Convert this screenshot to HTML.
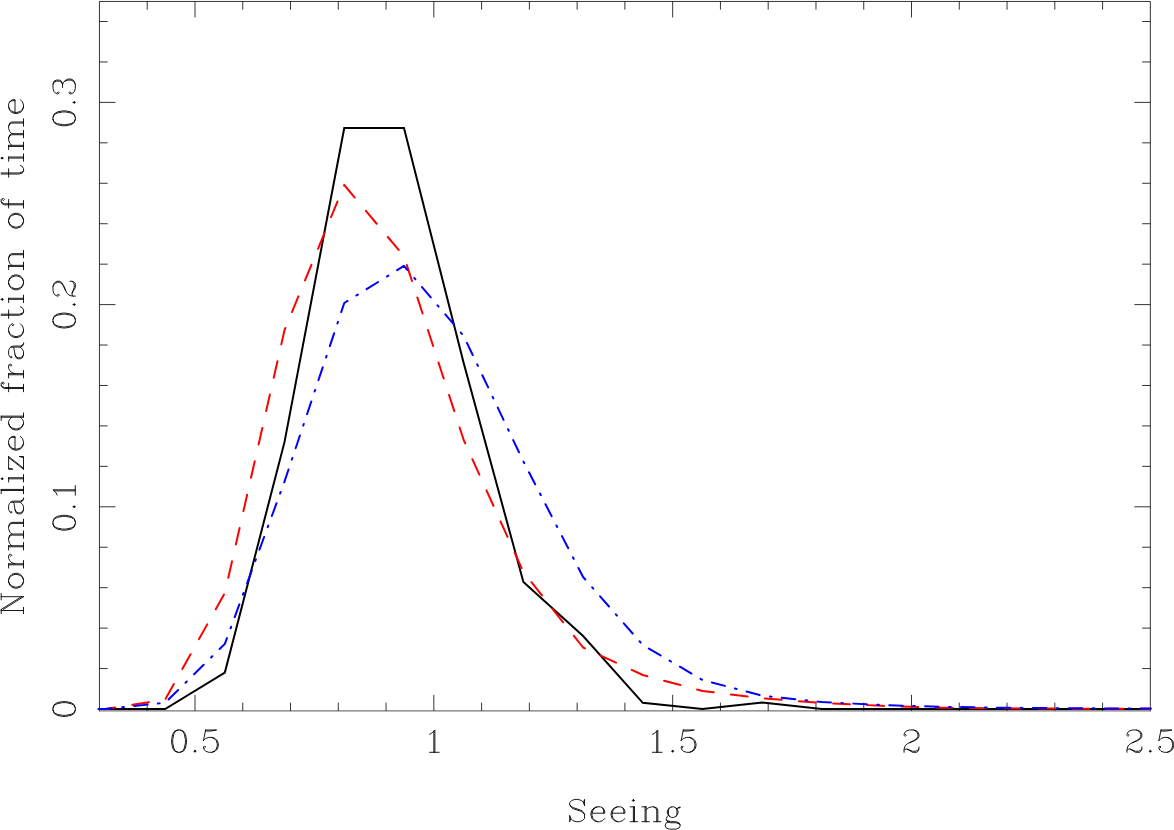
<!DOCTYPE html>
<html><head><meta charset="utf-8"><title>Seeing</title>
<style>html,body{margin:0;padding:0;width:1174px;height:830px;overflow:hidden;background:#fff;font-family:"Liberation Sans",sans-serif;}svg{display:block}</style>
</head><body>
<svg width="1174" height="830" viewBox="0 0 1174 830">
<title>Normalized fraction of time vs Seeing</title>
<rect width="1174" height="830" fill="#fff"/>
<g fill="none" stroke="#000" stroke-width="0.8" stroke-linecap="butt">
<path d="M99.45 711.25 V1.46 H1150.35 V711.25"/>
<path d="M99.05 710.9 H1150.75" stroke="#555" stroke-width="1"/>
<path d="M147.22 710.85 v-8.2 M147.22 1.46 v8.2 M194.99 710.85 v-16.0 M194.99 1.46 v16.0 M242.75 710.85 v-8.2 M242.75 1.46 v8.2 M290.52 710.85 v-8.2 M290.52 1.46 v8.2 M338.29 710.85 v-8.2 M338.29 1.46 v8.2 M386.06 710.85 v-8.2 M386.06 1.46 v8.2 M433.83 710.85 v-16.0 M433.83 1.46 v16.0 M481.60 710.85 v-8.2 M481.60 1.46 v8.2 M529.36 710.85 v-8.2 M529.36 1.46 v8.2 M577.13 710.85 v-8.2 M577.13 1.46 v8.2 M624.90 710.85 v-8.2 M624.90 1.46 v8.2 M672.67 710.85 v-16.0 M672.67 1.46 v16.0 M720.44 710.85 v-8.2 M720.44 1.46 v8.2 M768.20 710.85 v-8.2 M768.20 1.46 v8.2 M815.97 710.85 v-8.2 M815.97 1.46 v8.2 M863.74 710.85 v-8.2 M863.74 1.46 v8.2 M911.51 710.85 v-16.0 M911.51 1.46 v16.0 M959.28 710.85 v-8.2 M959.28 1.46 v8.2 M1007.05 710.85 v-8.2 M1007.05 1.46 v8.2 M1054.81 710.85 v-8.2 M1054.81 1.46 v8.2 M1102.58 710.85 v-8.2 M1102.58 1.46 v8.2 M99.45 668.56 h8.2 M1150.35 668.56 h-8.2 M99.45 628.12 h8.2 M1150.35 628.12 h-8.2 M99.45 587.68 h8.2 M1150.35 587.68 h-8.2 M99.45 547.24 h8.2 M1150.35 547.24 h-8.2 M99.45 506.80 h16.0 M1150.35 506.80 h-16.0 M99.45 466.36 h8.2 M1150.35 466.36 h-8.2 M99.45 425.92 h8.2 M1150.35 425.92 h-8.2 M99.45 385.48 h8.2 M1150.35 385.48 h-8.2 M99.45 345.04 h8.2 M1150.35 345.04 h-8.2 M99.45 304.60 h16.0 M1150.35 304.60 h-16.0 M99.45 264.16 h8.2 M1150.35 264.16 h-8.2 M99.45 223.72 h8.2 M1150.35 223.72 h-8.2 M99.45 183.28 h8.2 M1150.35 183.28 h-8.2 M99.45 142.84 h8.2 M1150.35 142.84 h-8.2 M99.45 102.40 h16.0 M1150.35 102.40 h-16.0 M99.45 61.96 h8.2 M1150.35 61.96 h-8.2 M99.45 21.52 h8.2 M1150.35 21.52 h-8.2"/>
</g>
<g fill="none" stroke-width="2.0" stroke-linejoin="round">
<path d="M98.60 709.00 L105.42 709.00 L165.13 709.00 L224.84 672.50 L284.55 441.90 L344.26 128.00 L403.97 128.00 L463.68 363.00 L523.39 582.00 L583.10 636.00 L642.81 702.80 L702.52 709.00 L762.23 702.60 L821.94 709.00 L881.65 709.00 L941.36 709.00 L1001.07 709.00 L1060.78 709.00 L1120.49 709.00 L1150.80 709.00" stroke="#000" stroke-linejoin="miter"/>
<path d="M98.60 709.00 L105.42 709.00 L165.13 699.60 L224.84 593.00 L284.55 330.00 L344.26 185.00 L403.97 256.30 L463.68 440.00 L523.39 572.00 L583.10 647.50 L642.81 675.00 L702.52 691.00 L762.23 698.20 L821.94 703.00 L881.65 705.80 L941.36 707.70 L1001.07 708.30 L1060.78 708.60 L1120.49 708.80 L1150.80 708.80" stroke="#ff0000" stroke-dasharray="16.9 17.3" stroke-dashoffset="0.2" stroke-linecap="round"/>
<path d="M98.60 709.00 L105.42 709.00 L165.13 702.80 L224.84 643.90 L284.55 481.40 L344.26 303.00 L403.97 265.90 L463.68 336.00 L523.39 461.50 L583.10 577.00 L642.81 645.00 L702.52 680.00 L762.23 695.70 L821.94 702.10 L881.65 705.00 L941.36 706.80 L1001.07 707.70 L1060.78 708.20 L1120.49 708.50 L1150.80 708.50" stroke="#0000ff" stroke-dasharray="13.5 10.4 1.7 10.3" stroke-dashoffset="0.2" stroke-linecap="round"/>
</g>
<g fill="none" stroke="#000" stroke-width="0.9" stroke-linecap="round" stroke-linejoin="round">
<path aria-label="0.5" transform="translate(168.44 752.3)" d="M9.56 -22.30 L6.37 -21.24 L4.25 -18.05 L3.19 -12.74 L3.19 -9.56 L4.25 -4.25 L6.37 -1.06 L9.56 0.00 L11.68 0.00 L14.87 -1.06 L16.99 -4.25 L18.05 -9.56 L18.05 -12.74 L16.99 -18.05 L14.87 -21.24 L11.68 -22.30 L9.56 -22.30 M9.56 -22.30 L7.43 -21.24 L6.37 -20.18 L5.31 -18.05 L4.25 -12.74 L4.25 -9.56 L5.31 -4.25 L6.37 -2.12 L7.43 -1.06 L9.56 0.00 M11.68 0.00 L13.81 -1.06 L14.87 -2.12 L15.93 -4.25 L16.99 -9.56 L16.99 -12.74 L15.93 -18.05 L14.87 -20.18 L13.81 -21.24 L11.68 -22.30 M26.55 -2.12 L25.49 -1.06 L26.55 0.00 L27.61 -1.06 L26.55 -2.12 M37.17 -22.30 L35.05 -11.68 M35.05 -11.68 L37.17 -13.81 L40.36 -14.87 L43.54 -14.87 L46.73 -13.81 L48.85 -11.68 L49.91 -8.50 L49.91 -6.37 L48.85 -3.19 L46.73 -1.06 L43.54 0.00 L40.36 0.00 L37.17 -1.06 L36.11 -2.12 L35.05 -4.25 L35.05 -5.31 L36.11 -6.37 L37.17 -5.31 L36.11 -4.25 M43.54 -14.87 L45.67 -13.81 L47.79 -11.68 L48.85 -8.50 L48.85 -6.37 L47.79 -3.19 L45.67 -1.06 L43.54 0.00 M37.17 -22.30 L47.79 -22.30 M37.17 -21.24 L42.48 -21.24 L47.79 -22.30"/>
<path transform="translate(168.44 752.3)" d="M26.55 -2.12 L25.49 -1.06 L26.55 0.00 L27.61 -1.06 L26.55 -2.12Z" fill="#000" stroke="none"/>
<path aria-label="1" transform="translate(423.21 752.3)" d="M6.37 -18.05 L8.50 -19.12 L11.68 -22.30 L11.68 0.00 M10.62 -21.24 L10.62 0.00 M6.37 0.00 L15.93 0.00"/>
<path aria-label="1.5" transform="translate(646.12 752.3)" d="M6.37 -18.05 L8.50 -19.12 L11.68 -22.30 L11.68 0.00 M10.62 -21.24 L10.62 0.00 M6.37 0.00 L15.93 0.00 M26.55 -2.12 L25.49 -1.06 L26.55 0.00 L27.61 -1.06 L26.55 -2.12 M37.17 -22.30 L35.05 -11.68 M35.05 -11.68 L37.17 -13.81 L40.36 -14.87 L43.54 -14.87 L46.73 -13.81 L48.85 -11.68 L49.91 -8.50 L49.91 -6.37 L48.85 -3.19 L46.73 -1.06 L43.54 0.00 L40.36 0.00 L37.17 -1.06 L36.11 -2.12 L35.05 -4.25 L35.05 -5.31 L36.11 -6.37 L37.17 -5.31 L36.11 -4.25 M43.54 -14.87 L45.67 -13.81 L47.79 -11.68 L48.85 -8.50 L48.85 -6.37 L47.79 -3.19 L45.67 -1.06 L43.54 0.00 M37.17 -22.30 L47.79 -22.30 M37.17 -21.24 L42.48 -21.24 L47.79 -22.30"/>
<path transform="translate(646.12 752.3)" d="M26.55 -2.12 L25.49 -1.06 L26.55 0.00 L27.61 -1.06 L26.55 -2.12Z" fill="#000" stroke="none"/>
<path aria-label="2" transform="translate(900.89 752.3)" d="M4.25 -18.05 L5.31 -16.99 L4.25 -15.93 L3.19 -16.99 L3.19 -18.05 L4.25 -20.18 L5.31 -21.24 L8.50 -22.30 L12.74 -22.30 L15.93 -21.24 L16.99 -20.18 L18.05 -18.05 L18.05 -15.93 L16.99 -13.81 L13.81 -11.68 L8.50 -9.56 L6.37 -8.50 L4.25 -6.37 L3.19 -3.19 L3.19 0.00 M12.74 -22.30 L14.87 -21.24 L15.93 -20.18 L16.99 -18.05 L16.99 -15.93 L15.93 -13.81 L12.74 -11.68 L8.50 -9.56 M3.19 -2.12 L4.25 -3.19 L6.37 -3.19 L11.68 -1.06 L14.87 -1.06 L16.99 -2.12 L18.05 -3.19 M6.37 -3.19 L11.68 0.00 L15.93 0.00 L16.99 -1.06 L18.05 -3.19 L18.05 -5.31"/>
<path aria-label="2.5" transform="translate(1123.80 752.3)" d="M4.25 -18.05 L5.31 -16.99 L4.25 -15.93 L3.19 -16.99 L3.19 -18.05 L4.25 -20.18 L5.31 -21.24 L8.50 -22.30 L12.74 -22.30 L15.93 -21.24 L16.99 -20.18 L18.05 -18.05 L18.05 -15.93 L16.99 -13.81 L13.81 -11.68 L8.50 -9.56 L6.37 -8.50 L4.25 -6.37 L3.19 -3.19 L3.19 0.00 M12.74 -22.30 L14.87 -21.24 L15.93 -20.18 L16.99 -18.05 L16.99 -15.93 L15.93 -13.81 L12.74 -11.68 L8.50 -9.56 M3.19 -2.12 L4.25 -3.19 L6.37 -3.19 L11.68 -1.06 L14.87 -1.06 L16.99 -2.12 L18.05 -3.19 M6.37 -3.19 L11.68 0.00 L15.93 0.00 L16.99 -1.06 L18.05 -3.19 L18.05 -5.31 M26.55 -2.12 L25.49 -1.06 L26.55 0.00 L27.61 -1.06 L26.55 -2.12 M37.17 -22.30 L35.05 -11.68 M35.05 -11.68 L37.17 -13.81 L40.36 -14.87 L43.54 -14.87 L46.73 -13.81 L48.85 -11.68 L49.91 -8.50 L49.91 -6.37 L48.85 -3.19 L46.73 -1.06 L43.54 0.00 L40.36 0.00 L37.17 -1.06 L36.11 -2.12 L35.05 -4.25 L35.05 -5.31 L36.11 -6.37 L37.17 -5.31 L36.11 -4.25 M43.54 -14.87 L45.67 -13.81 L47.79 -11.68 L48.85 -8.50 L48.85 -6.37 L47.79 -3.19 L45.67 -1.06 L43.54 0.00 M37.17 -22.30 L47.79 -22.30 M37.17 -21.24 L42.48 -21.24 L47.79 -22.30"/>
<path transform="translate(1123.80 752.3)" d="M26.55 -2.12 L25.49 -1.06 L26.55 0.00 L27.61 -1.06 L26.55 -2.12Z" fill="#000" stroke="none"/>
<path aria-label="Seeing" transform="translate(566.49 821.7)" d="M16.99 -19.12 L18.05 -22.30 L18.05 -15.93 L16.99 -19.12 L14.87 -21.24 L11.68 -22.30 L8.50 -22.30 L5.31 -21.24 L3.19 -19.12 L3.19 -16.99 L4.25 -14.87 L5.31 -13.81 L7.43 -12.74 L13.81 -10.62 L15.93 -9.56 L18.05 -7.43 M3.19 -16.99 L5.31 -14.87 L7.43 -13.81 L13.81 -11.68 L15.93 -10.62 L16.99 -9.56 L18.05 -7.43 L18.05 -3.19 L15.93 -1.06 L12.74 0.00 L9.56 0.00 L6.37 -1.06 L4.25 -3.19 L3.19 -6.37 L3.19 0.00 L4.25 -3.19 M25.49 -8.50 L38.23 -8.50 L38.23 -10.62 L37.17 -12.74 L36.11 -13.81 L33.98 -14.87 L30.80 -14.87 L27.61 -13.81 L25.49 -11.68 L24.43 -8.50 L24.43 -6.37 L25.49 -3.19 L27.61 -1.06 L30.80 0.00 L32.92 0.00 L36.11 -1.06 L38.23 -3.19 M37.17 -8.50 L37.17 -11.68 L36.11 -13.81 M30.80 -14.87 L28.67 -13.81 L26.55 -11.68 L25.49 -8.50 L25.49 -6.37 L26.55 -3.19 L28.67 -1.06 L30.80 0.00 M45.67 -8.50 L58.41 -8.50 L58.41 -10.62 L57.35 -12.74 L56.29 -13.81 L54.16 -14.87 L50.98 -14.87 L47.79 -13.81 L45.67 -11.68 L44.60 -8.50 L44.60 -6.37 L45.67 -3.19 L47.79 -1.06 L50.98 0.00 L53.10 0.00 L56.29 -1.06 L58.41 -3.19 M57.35 -8.50 L57.35 -11.68 L56.29 -13.81 M50.98 -14.87 L48.85 -13.81 L46.73 -11.68 L45.67 -8.50 L45.67 -6.37 L46.73 -3.19 L48.85 -1.06 L50.98 0.00 M66.91 -22.30 L65.84 -21.24 L66.91 -20.18 L67.97 -21.24 L66.91 -22.30 M66.91 -14.87 L66.91 0.00 M67.97 -14.87 L67.97 0.00 M63.72 -14.87 L67.97 -14.87 M63.72 0.00 L71.15 0.00 M78.59 -14.87 L78.59 0.00 M79.65 -14.87 L79.65 0.00 M79.65 -11.68 L81.77 -13.81 L84.96 -14.87 L87.08 -14.87 L90.27 -13.81 L91.33 -11.68 L91.33 0.00 M87.08 -14.87 L89.21 -13.81 L90.27 -11.68 L90.27 0.00 M75.40 -14.87 L79.65 -14.87 M75.40 0.00 L82.84 0.00 M87.08 0.00 L94.52 0.00 M105.14 -14.87 L103.01 -13.81 L101.95 -12.74 L100.89 -10.62 L100.89 -8.50 L101.95 -6.37 L103.01 -5.31 L105.14 -4.25 L107.26 -4.25 L109.39 -5.31 L110.45 -6.37 L111.51 -8.50 L111.51 -10.62 L110.45 -12.74 L109.39 -13.81 L107.26 -14.87 L105.14 -14.87 M103.01 -13.81 L101.95 -11.68 L101.95 -7.43 L103.01 -5.31 M109.39 -5.31 L110.45 -7.43 L110.45 -11.68 L109.39 -13.81 M110.45 -12.74 L111.51 -13.81 L113.63 -14.87 L113.63 -13.81 L111.51 -13.81 M101.95 -6.37 L100.89 -5.31 L99.83 -3.19 L99.83 -2.12 L100.89 0.00 L104.08 1.06 L109.39 1.06 L112.57 2.12 L113.63 3.19 M99.83 -2.12 L100.89 -1.06 L104.08 0.00 L109.39 0.00 L112.57 1.06 L113.63 3.19 L113.63 4.25 L112.57 6.37 L109.39 7.43 L103.01 7.43 L99.83 6.37 L98.77 4.25 L98.77 3.19 L99.83 1.06 L103.01 0.00"/>
<path transform="translate(566.49 821.7)" d="M66.91 -22.30 L65.84 -21.24 L66.91 -20.18 L67.97 -21.24 L66.91 -22.30Z" fill="#000" stroke="none"/>
<path aria-label="0" transform="translate(75.3 719.62) rotate(-90)" d="M9.56 -22.30 L6.37 -21.24 L4.25 -18.05 L3.19 -12.74 L3.19 -9.56 L4.25 -4.25 L6.37 -1.06 L9.56 0.00 L11.68 0.00 L14.87 -1.06 L16.99 -4.25 L18.05 -9.56 L18.05 -12.74 L16.99 -18.05 L14.87 -21.24 L11.68 -22.30 L9.56 -22.30 M9.56 -22.30 L7.43 -21.24 L6.37 -20.18 L5.31 -18.05 L4.25 -12.74 L4.25 -9.56 L5.31 -4.25 L6.37 -2.12 L7.43 -1.06 L9.56 0.00 M11.68 0.00 L13.81 -1.06 L14.87 -2.12 L15.93 -4.25 L16.99 -9.56 L16.99 -12.74 L15.93 -18.05 L14.87 -20.18 L13.81 -21.24 L11.68 -22.30"/>
<path aria-label="0.1" transform="translate(75.3 533.35) rotate(-90)" d="M9.56 -22.30 L6.37 -21.24 L4.25 -18.05 L3.19 -12.74 L3.19 -9.56 L4.25 -4.25 L6.37 -1.06 L9.56 0.00 L11.68 0.00 L14.87 -1.06 L16.99 -4.25 L18.05 -9.56 L18.05 -12.74 L16.99 -18.05 L14.87 -21.24 L11.68 -22.30 L9.56 -22.30 M9.56 -22.30 L7.43 -21.24 L6.37 -20.18 L5.31 -18.05 L4.25 -12.74 L4.25 -9.56 L5.31 -4.25 L6.37 -2.12 L7.43 -1.06 L9.56 0.00 M11.68 0.00 L13.81 -1.06 L14.87 -2.12 L15.93 -4.25 L16.99 -9.56 L16.99 -12.74 L15.93 -18.05 L14.87 -20.18 L13.81 -21.24 L11.68 -22.30 M26.55 -2.12 L25.49 -1.06 L26.55 0.00 L27.61 -1.06 L26.55 -2.12 M38.23 -18.05 L40.36 -19.12 L43.54 -22.30 L43.54 0.00 M42.48 -21.24 L42.48 0.00 M38.23 0.00 L47.79 0.00"/>
<path transform="translate(75.3 533.35) rotate(-90)" d="M26.55 -2.12 L25.49 -1.06 L26.55 0.00 L27.61 -1.06 L26.55 -2.12Z" fill="#000" stroke="none"/>
<path aria-label="0.2" transform="translate(75.3 331.15) rotate(-90)" d="M9.56 -22.30 L6.37 -21.24 L4.25 -18.05 L3.19 -12.74 L3.19 -9.56 L4.25 -4.25 L6.37 -1.06 L9.56 0.00 L11.68 0.00 L14.87 -1.06 L16.99 -4.25 L18.05 -9.56 L18.05 -12.74 L16.99 -18.05 L14.87 -21.24 L11.68 -22.30 L9.56 -22.30 M9.56 -22.30 L7.43 -21.24 L6.37 -20.18 L5.31 -18.05 L4.25 -12.74 L4.25 -9.56 L5.31 -4.25 L6.37 -2.12 L7.43 -1.06 L9.56 0.00 M11.68 0.00 L13.81 -1.06 L14.87 -2.12 L15.93 -4.25 L16.99 -9.56 L16.99 -12.74 L15.93 -18.05 L14.87 -20.18 L13.81 -21.24 L11.68 -22.30 M26.55 -2.12 L25.49 -1.06 L26.55 0.00 L27.61 -1.06 L26.55 -2.12 M36.11 -18.05 L37.17 -16.99 L36.11 -15.93 L35.05 -16.99 L35.05 -18.05 L36.11 -20.18 L37.17 -21.24 L40.36 -22.30 L44.60 -22.30 L47.79 -21.24 L48.85 -20.18 L49.91 -18.05 L49.91 -15.93 L48.85 -13.81 L45.67 -11.68 L40.36 -9.56 L38.23 -8.50 L36.11 -6.37 L35.05 -3.19 L35.05 0.00 M44.60 -22.30 L46.73 -21.24 L47.79 -20.18 L48.85 -18.05 L48.85 -15.93 L47.79 -13.81 L44.60 -11.68 L40.36 -9.56 M35.05 -2.12 L36.11 -3.19 L38.23 -3.19 L43.54 -1.06 L46.73 -1.06 L48.85 -2.12 L49.91 -3.19 M38.23 -3.19 L43.54 0.00 L47.79 0.00 L48.85 -1.06 L49.91 -3.19 L49.91 -5.31"/>
<path transform="translate(75.3 331.15) rotate(-90)" d="M26.55 -2.12 L25.49 -1.06 L26.55 0.00 L27.61 -1.06 L26.55 -2.12Z" fill="#000" stroke="none"/>
<path aria-label="0.3" transform="translate(75.3 128.95) rotate(-90)" d="M9.56 -22.30 L6.37 -21.24 L4.25 -18.05 L3.19 -12.74 L3.19 -9.56 L4.25 -4.25 L6.37 -1.06 L9.56 0.00 L11.68 0.00 L14.87 -1.06 L16.99 -4.25 L18.05 -9.56 L18.05 -12.74 L16.99 -18.05 L14.87 -21.24 L11.68 -22.30 L9.56 -22.30 M9.56 -22.30 L7.43 -21.24 L6.37 -20.18 L5.31 -18.05 L4.25 -12.74 L4.25 -9.56 L5.31 -4.25 L6.37 -2.12 L7.43 -1.06 L9.56 0.00 M11.68 0.00 L13.81 -1.06 L14.87 -2.12 L15.93 -4.25 L16.99 -9.56 L16.99 -12.74 L15.93 -18.05 L14.87 -20.18 L13.81 -21.24 L11.68 -22.30 M26.55 -2.12 L25.49 -1.06 L26.55 0.00 L27.61 -1.06 L26.55 -2.12 M36.11 -18.05 L37.17 -16.99 L36.11 -15.93 L35.05 -16.99 L35.05 -18.05 L36.11 -20.18 L37.17 -21.24 L40.36 -22.30 L44.60 -22.30 L47.79 -21.24 L48.85 -19.12 L48.85 -15.93 L47.79 -13.81 L44.60 -12.74 L41.42 -12.74 M44.60 -22.30 L46.73 -21.24 L47.79 -19.12 L47.79 -15.93 L46.73 -13.81 L44.60 -12.74 M44.60 -12.74 L46.73 -11.68 L48.85 -9.56 L49.91 -7.43 L49.91 -4.25 L48.85 -2.12 L47.79 -1.06 L44.60 0.00 L40.36 0.00 L37.17 -1.06 L36.11 -2.12 L35.05 -4.25 L35.05 -5.31 L36.11 -6.37 L37.17 -5.31 L36.11 -4.25 M47.79 -10.62 L48.85 -7.43 L48.85 -4.25 L47.79 -2.12 L46.73 -1.06 L44.60 0.00"/>
<path transform="translate(75.3 128.95) rotate(-90)" d="M26.55 -2.12 L25.49 -1.06 L26.55 0.00 L27.61 -1.06 L26.55 -2.12Z" fill="#000" stroke="none"/>
<path aria-label="Normalized fraction of time" transform="translate(23.5 615.81) rotate(-90)" d="M5.31 -22.30 L5.31 0.00 M6.37 -22.30 L19.12 -2.12 M6.37 -20.18 L19.12 0.00 M19.12 -22.30 L19.12 0.00 M2.12 -22.30 L6.37 -22.30 M15.93 -22.30 L22.30 -22.30 M2.12 0.00 L8.50 0.00 M33.98 -14.87 L30.80 -13.81 L28.67 -11.68 L27.61 -8.50 L27.61 -6.37 L28.67 -3.19 L30.80 -1.06 L33.98 0.00 L36.11 0.00 L39.29 -1.06 L41.42 -3.19 L42.48 -6.37 L42.48 -8.50 L41.42 -11.68 L39.29 -13.81 L36.11 -14.87 L33.98 -14.87 M33.98 -14.87 L31.86 -13.81 L29.74 -11.68 L28.67 -8.50 L28.67 -6.37 L29.74 -3.19 L31.86 -1.06 L33.98 0.00 M36.11 0.00 L38.23 -1.06 L40.36 -3.19 L41.42 -6.37 L41.42 -8.50 L40.36 -11.68 L38.23 -13.81 L36.11 -14.87 M50.98 -14.87 L50.98 0.00 M52.04 -14.87 L52.04 0.00 M52.04 -8.50 L53.10 -11.68 L55.22 -13.81 L57.35 -14.87 L60.53 -14.87 L61.60 -13.81 L61.60 -12.74 L60.53 -11.68 L59.47 -12.74 L60.53 -13.81 M47.79 -14.87 L52.04 -14.87 M47.79 0.00 L55.22 0.00 M69.03 -14.87 L69.03 0.00 M70.09 -14.87 L70.09 0.00 M70.09 -11.68 L72.22 -13.81 L75.40 -14.87 L77.53 -14.87 L80.71 -13.81 L81.77 -11.68 L81.77 0.00 M77.53 -14.87 L79.65 -13.81 L80.71 -11.68 L80.71 0.00 M81.77 -11.68 L83.90 -13.81 L87.08 -14.87 L89.21 -14.87 L92.39 -13.81 L93.46 -11.68 L93.46 0.00 M89.21 -14.87 L91.33 -13.81 L92.39 -11.68 L92.39 0.00 M65.84 -14.87 L70.09 -14.87 M65.84 0.00 L73.28 0.00 M77.53 0.00 L84.96 0.00 M89.21 0.00 L96.64 0.00 M104.08 -12.74 L104.08 -11.68 L103.01 -11.68 L103.01 -12.74 L104.08 -13.81 L106.20 -14.87 L110.45 -14.87 L112.57 -13.81 L113.63 -12.74 L114.70 -10.62 L114.70 -3.19 L115.76 -1.06 L116.82 0.00 M113.63 -12.74 L113.63 -3.19 L114.70 -1.06 L116.82 0.00 L117.88 0.00 M113.63 -10.62 L112.57 -9.56 L106.20 -8.50 L103.01 -7.43 L101.95 -5.31 L101.95 -3.19 L103.01 -1.06 L106.20 0.00 L109.39 0.00 L111.51 -1.06 L113.63 -3.19 M106.20 -8.50 L104.08 -7.43 L103.01 -5.31 L103.01 -3.19 L104.08 -1.06 L106.20 0.00 M125.32 -22.30 L125.32 0.00 M126.38 -22.30 L126.38 0.00 M122.13 -22.30 L126.38 -22.30 M122.13 0.00 L129.56 0.00 M137.00 -22.30 L135.94 -21.24 L137.00 -20.18 L138.06 -21.24 L137.00 -22.30 M137.00 -14.87 L137.00 0.00 M138.06 -14.87 L138.06 0.00 M133.81 -14.87 L138.06 -14.87 M133.81 0.00 L141.25 0.00 M158.24 -14.87 L146.56 0.00 M159.30 -14.87 L147.62 0.00 M147.62 -14.87 L146.56 -10.62 L146.56 -14.87 L159.30 -14.87 M146.56 0.00 L159.30 0.00 L159.30 -4.25 L158.24 0.00 M166.73 -8.50 L179.48 -8.50 L179.48 -10.62 L178.42 -12.74 L177.35 -13.81 L175.23 -14.87 L172.04 -14.87 L168.86 -13.81 L166.73 -11.68 L165.67 -8.50 L165.67 -6.37 L166.73 -3.19 L168.86 -1.06 L172.04 0.00 L174.17 0.00 L177.35 -1.06 L179.48 -3.19 M178.42 -8.50 L178.42 -11.68 L177.35 -13.81 M172.04 -14.87 L169.92 -13.81 L167.80 -11.68 L166.73 -8.50 L166.73 -6.37 L167.80 -3.19 L169.92 -1.06 L172.04 0.00 M198.59 -22.30 L198.59 0.00 M199.66 -22.30 L199.66 0.00 M198.59 -11.68 L196.47 -13.81 L194.35 -14.87 L192.22 -14.87 L189.04 -13.81 L186.91 -11.68 L185.85 -8.50 L185.85 -6.37 L186.91 -3.19 L189.04 -1.06 L192.22 0.00 L194.35 0.00 L196.47 -1.06 L198.59 -3.19 M192.22 -14.87 L190.10 -13.81 L187.97 -11.68 L186.91 -8.50 L186.91 -6.37 L187.97 -3.19 L190.10 -1.06 L192.22 0.00 M195.41 -22.30 L199.66 -22.30 M198.59 0.00 L202.84 0.00 M232.58 -21.24 L231.52 -20.18 L232.58 -19.12 L233.64 -20.18 L233.64 -21.24 L232.58 -22.30 L230.45 -22.30 L228.33 -21.24 L227.27 -19.12 L227.27 0.00 M230.45 -22.30 L229.39 -21.24 L228.33 -19.12 L228.33 0.00 M224.08 -14.87 L232.58 -14.87 M224.08 0.00 L231.52 0.00 M241.07 -14.87 L241.07 0.00 M242.14 -14.87 L242.14 0.00 M242.14 -8.50 L243.20 -11.68 L245.32 -13.81 L247.45 -14.87 L250.63 -14.87 L251.69 -13.81 L251.69 -12.74 L250.63 -11.68 L249.57 -12.74 L250.63 -13.81 M237.89 -14.87 L242.14 -14.87 M237.89 0.00 L245.32 0.00 M259.13 -12.74 L259.13 -11.68 L258.07 -11.68 L258.07 -12.74 L259.13 -13.81 L261.25 -14.87 L265.50 -14.87 L267.62 -13.81 L268.69 -12.74 L269.75 -10.62 L269.75 -3.19 L270.81 -1.06 L271.87 0.00 M268.69 -12.74 L268.69 -3.19 L269.75 -1.06 L271.87 0.00 L272.93 0.00 M268.69 -10.62 L267.62 -9.56 L261.25 -8.50 L258.07 -7.43 L257.00 -5.31 L257.00 -3.19 L258.07 -1.06 L261.25 0.00 L264.44 0.00 L266.56 -1.06 L268.69 -3.19 M261.25 -8.50 L259.13 -7.43 L258.07 -5.31 L258.07 -3.19 L259.13 -1.06 L261.25 0.00 M290.99 -11.68 L289.93 -10.62 L290.99 -9.56 L292.05 -10.62 L292.05 -11.68 L289.93 -13.81 L287.80 -14.87 L284.62 -14.87 L281.43 -13.81 L279.31 -11.68 L278.24 -8.50 L278.24 -6.37 L279.31 -3.19 L281.43 -1.06 L284.62 0.00 L286.74 0.00 L289.93 -1.06 L292.05 -3.19 M284.62 -14.87 L282.49 -13.81 L280.37 -11.68 L279.31 -8.50 L279.31 -6.37 L280.37 -3.19 L282.49 -1.06 L284.62 0.00 M300.55 -22.30 L300.55 -4.25 L301.61 -1.06 L303.73 0.00 L305.86 0.00 L307.98 -1.06 L309.04 -3.19 M301.61 -22.30 L301.61 -4.25 L302.67 -1.06 L303.73 0.00 M297.36 -14.87 L305.86 -14.87 M316.48 -22.30 L315.41 -21.24 L316.48 -20.18 L317.54 -21.24 L316.48 -22.30 M316.48 -14.87 L316.48 0.00 M317.54 -14.87 L317.54 0.00 M313.29 -14.87 L317.54 -14.87 M313.29 0.00 L320.72 0.00 M332.41 -14.87 L329.22 -13.81 L327.10 -11.68 L326.03 -8.50 L326.03 -6.37 L327.10 -3.19 L329.22 -1.06 L332.41 0.00 L334.53 0.00 L337.72 -1.06 L339.84 -3.19 L340.90 -6.37 L340.90 -8.50 L339.84 -11.68 L337.72 -13.81 L334.53 -14.87 L332.41 -14.87 M332.41 -14.87 L330.28 -13.81 L328.16 -11.68 L327.10 -8.50 L327.10 -6.37 L328.16 -3.19 L330.28 -1.06 L332.41 0.00 M334.53 0.00 L336.65 -1.06 L338.78 -3.19 L339.84 -6.37 L339.84 -8.50 L338.78 -11.68 L336.65 -13.81 L334.53 -14.87 M349.40 -14.87 L349.40 0.00 M350.46 -14.87 L350.46 0.00 M350.46 -11.68 L352.58 -13.81 L355.77 -14.87 L357.89 -14.87 L361.08 -13.81 L362.14 -11.68 L362.14 0.00 M357.89 -14.87 L360.02 -13.81 L361.08 -11.68 L361.08 0.00 M346.21 -14.87 L350.46 -14.87 M346.21 0.00 L353.65 0.00 M357.89 0.00 L365.33 0.00 M394.00 -14.87 L390.82 -13.81 L388.69 -11.68 L387.63 -8.50 L387.63 -6.37 L388.69 -3.19 L390.82 -1.06 L394.00 0.00 L396.13 0.00 L399.31 -1.06 L401.44 -3.19 L402.50 -6.37 L402.50 -8.50 L401.44 -11.68 L399.31 -13.81 L396.13 -14.87 L394.00 -14.87 M394.00 -14.87 L391.88 -13.81 L389.75 -11.68 L388.69 -8.50 L388.69 -6.37 L389.75 -3.19 L391.88 -1.06 L394.00 0.00 M396.13 0.00 L398.25 -1.06 L400.37 -3.19 L401.44 -6.37 L401.44 -8.50 L400.37 -11.68 L398.25 -13.81 L396.13 -14.87 M416.30 -21.24 L415.24 -20.18 L416.30 -19.12 L417.37 -20.18 L417.37 -21.24 L416.30 -22.30 L414.18 -22.30 L412.06 -21.24 L410.99 -19.12 L410.99 0.00 M414.18 -22.30 L413.12 -21.24 L412.06 -19.12 L412.06 0.00 M407.81 -14.87 L416.30 -14.87 M407.81 0.00 L415.24 0.00 M441.79 -22.30 L441.79 -4.25 L442.85 -1.06 L444.98 0.00 L447.10 0.00 L449.23 -1.06 L450.29 -3.19 M442.85 -22.30 L442.85 -4.25 L443.92 -1.06 L444.98 0.00 M438.61 -14.87 L447.10 -14.87 M457.72 -22.30 L456.66 -21.24 L457.72 -20.18 L458.78 -21.24 L457.72 -22.30 M457.72 -14.87 L457.72 0.00 M458.78 -14.87 L458.78 0.00 M454.54 -14.87 L458.78 -14.87 M454.54 0.00 L461.97 0.00 M469.40 -14.87 L469.40 0.00 M470.47 -14.87 L470.47 0.00 M470.47 -11.68 L472.59 -13.81 L475.78 -14.87 L477.90 -14.87 L481.09 -13.81 L482.15 -11.68 L482.15 0.00 M477.90 -14.87 L480.02 -13.81 L481.09 -11.68 L481.09 0.00 M482.15 -11.68 L484.27 -13.81 L487.46 -14.87 L489.58 -14.87 L492.77 -13.81 L493.83 -11.68 L493.83 0.00 M489.58 -14.87 L491.71 -13.81 L492.77 -11.68 L492.77 0.00 M466.22 -14.87 L470.47 -14.87 M466.22 0.00 L473.65 0.00 M477.90 0.00 L485.33 0.00 M489.58 0.00 L497.02 0.00 M503.39 -8.50 L516.13 -8.50 L516.13 -10.62 L515.07 -12.74 L514.01 -13.81 L511.88 -14.87 L508.70 -14.87 L505.51 -13.81 L503.39 -11.68 L502.33 -8.50 L502.33 -6.37 L503.39 -3.19 L505.51 -1.06 L508.70 0.00 L510.82 0.00 L514.01 -1.06 L516.13 -3.19 M515.07 -8.50 L515.07 -11.68 L514.01 -13.81 M508.70 -14.87 L506.57 -13.81 L504.45 -11.68 L503.39 -8.50 L503.39 -6.37 L504.45 -3.19 L506.57 -1.06 L508.70 0.00"/>
<path transform="translate(23.5 615.81) rotate(-90)" d="M137.00 -22.30 L135.94 -21.24 L137.00 -20.18 L138.06 -21.24 L137.00 -22.30Z M316.48 -22.30 L315.41 -21.24 L316.48 -20.18 L317.54 -21.24 L316.48 -22.30Z M457.72 -22.30 L456.66 -21.24 L457.72 -20.18 L458.78 -21.24 L457.72 -22.30Z" fill="#000" stroke="none"/>
</g>
</svg>
</body></html>
